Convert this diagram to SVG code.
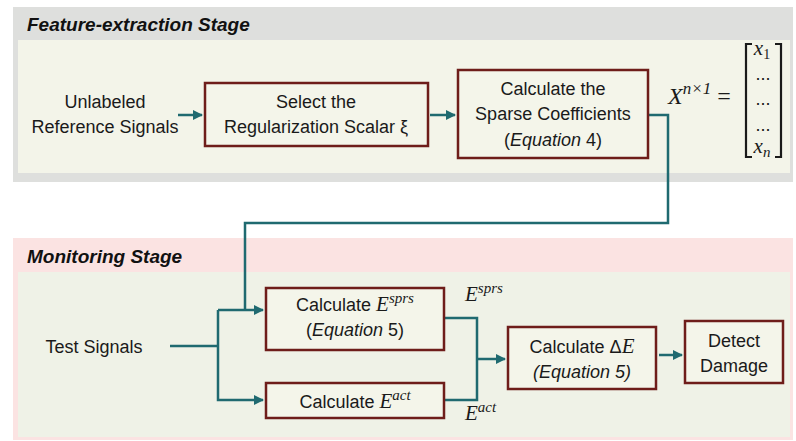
<svg xmlns="http://www.w3.org/2000/svg" width="796" height="441" viewBox="0 0 796 441">
<style>
.t{font-family:"Liberation Sans",Arial,sans-serif;font-size:18px;fill:#1a1a1a;text-anchor:middle}
.ti{font-family:"Liberation Sans",Arial,sans-serif;font-size:19px;font-weight:bold;font-style:italic;fill:#111}
.m{font-family:"Liberation Serif","Times New Roman",serif;font-style:italic;fill:#1a1a1a}
.box{fill:#f4f5ea;stroke:#6e1d1a;stroke-width:2.5}
.c{fill:none;stroke:#1f6a70;stroke-width:2.5}
</style>
<defs>
<marker id="a" viewBox="0 0 10 10" refX="9" refY="5" markerWidth="4" markerHeight="4" orient="auto" markerUnits="strokeWidth">
<path d="M0,0 L10,5 L0,10 z" fill="#1f6a70"/>
</marker>
</defs>
<g id="feature-stage">
<rect x="13" y="7" width="780" height="175" fill="#dedfdd"/>
<rect x="18" y="40" width="772" height="133" fill="#f3f4e9"/>
<text class="ti" x="27" y="31">Feature-extraction Stage</text>
</g>
<g id="monitoring-stage">
<rect x="13" y="238" width="780" height="202" fill="#fbe3e2"/>
<rect x="18" y="272" width="772" height="165" fill="#eff2e7"/>
<text class="ti" x="27" y="263">Monitoring Stage</text>
</g>
<g id="connectors">
<path class="c" d="M178,115 H202" marker-end="url(#a)"/>
<path class="c" d="M430,115 H455" marker-end="url(#a)"/>
<path class="c" d="M648,115 H668 V223 H245 V310"/>
<path class="c" d="M170,346 H218"/>
<path class="c" d="M218,310 H263" marker-end="url(#a)"/>
<path class="c" d="M218,310 V400 H263" marker-end="url(#a)"/>
<path class="c" d="M444,318 H477 V400 H444"/>
<path class="c" d="M477,359 H505" marker-end="url(#a)"/>
<path class="c" d="M659,355 H682" marker-end="url(#a)"/>
</g>
<g id="unlabeled">
<text class="t" x="105" y="108">Unlabeled</text>
<text class="t" x="105" y="133">Reference Signals</text>
</g>
<g id="select-scalar">
<rect class="box" x="205" y="83" width="223" height="63"/>
<text class="t" x="316" y="108">Select the</text>
<text class="t" x="316" y="133">Regularization Scalar ξ</text>
</g>
<g id="sparse-coeff">
<rect class="box" x="458" y="70" width="190" height="88"/>
<text class="t" x="553" y="95">Calculate the</text>
<text class="t" x="553" y="120">Sparse Coefficients</text>
<text class="t" x="553" y="146">(<tspan font-style="italic">Equation</tspan> 4)</text>
</g>
<g id="x-vector">
<text class="m" x="668" y="104" font-size="24">X<tspan font-size="17" dy="-10">n×1</tspan><tspan font-style="normal" dy="10" dx="6">=</tspan></text>
<path d="M752,44 H746 V157 H752 M775,44 H781 V157 H775" fill="none" stroke="#1a1a1a" stroke-width="2.2"/>
<text class="m" x="762" y="55" font-size="21" text-anchor="middle">x<tspan font-size="14" font-style="normal" dy="4">1</tspan></text>
<text class="t" x="763" y="80" font-size="15">...</text>
<text class="t" x="763" y="105" font-size="15">...</text>
<text class="t" x="763" y="131" font-size="15">...</text>
<text class="m" x="762" y="153" font-size="21" text-anchor="middle">x<tspan font-size="15" dy="4">n</tspan></text>
</g>
<g id="test-signals">
<text class="t" x="94" y="353">Test Signals</text>
</g>
<g id="calc-esprs">
<rect class="box" x="266" y="288" width="178" height="62"/>
<text class="t" x="355" y="311">Calculate <tspan class="m" font-size="21">E</tspan><tspan class="m" font-size="15" dy="-8">sprs</tspan></text>
<text class="t" x="355" y="336">(<tspan font-style="italic">Equation</tspan> 5)</text>
</g>
<g id="calc-eact">
<rect class="box" x="266" y="383" width="178" height="35"/>
<text class="t" x="355" y="408">Calculate <tspan class="m" font-size="21">E</tspan><tspan class="m" font-size="15" dy="-8">act</tspan></text>
</g>
<g id="labels">
<text class="m" x="465" y="301" font-size="21">E<tspan font-size="15" dy="-8">sprs</tspan></text>
<text class="m" x="465" y="420" font-size="21">E<tspan font-size="15" dy="-8">act</tspan></text>
</g>
<g id="calc-delta">
<rect class="box" x="508" y="327" width="148" height="62"/>
<text class="t" x="582" y="353">Calculate Δ<tspan class="m" font-size="21">E</tspan></text>
<text class="t" x="582" y="378" font-style="italic">(Equation 5)</text>
</g>
<g id="detect-damage">
<rect class="box" x="685" y="321" width="98" height="62"/>
<text class="t" x="734" y="347">Detect</text>
<text class="t" x="734" y="372">Damage</text>
</g>
</svg>
